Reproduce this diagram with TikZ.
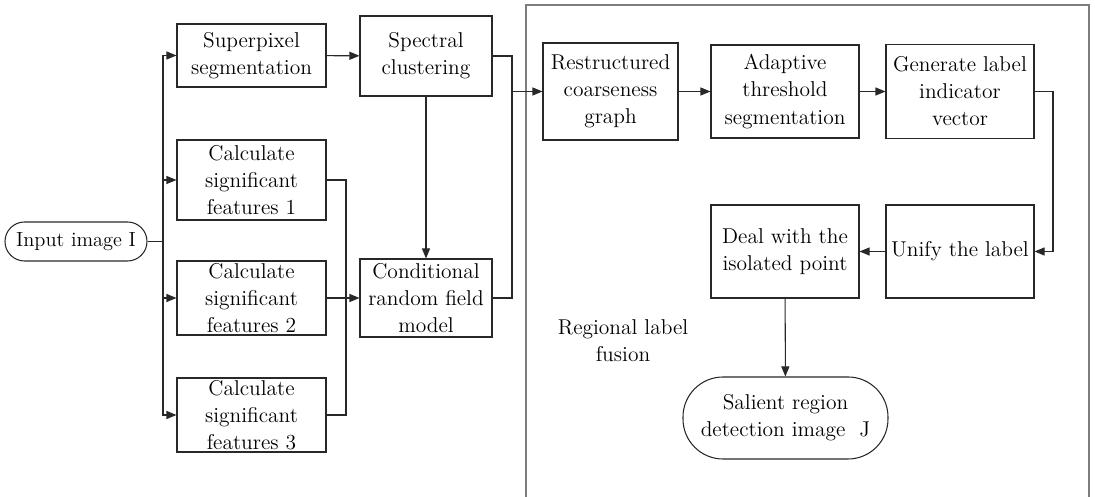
\documentclass[tikz,border=0pt]{standalone}
\usepackage{fontspec}
\usetikzlibrary{arrows.meta}
\definecolor{figline}{RGB}{40,40,40}
\definecolor{figframe}{RGB}{125,125,125}

\begin{document}
\begin{tikzpicture}[
    line join=miter,
    every node/.style={font=\rmfamily\fontsize{12.2}{15.4}\selectfont},
    box/.style={rectangle, draw=figline, line width=0.6pt, align=center, inner sep=0pt},
    term/.style={box, rounded corners=#1},
    link/.style={figline, line width=0.6pt},
    flow/.style={link, -{Triangle[length=2mm, width=1.6mm]}},
    frame/.style={figframe, line width=1.1pt},
    lbl/.style={align=center},
  ]
  \useasboundingbox (0,0) rectangle (21.9,9.94);

  % ---- junction coordinates ------------------------------------
  \coordinate (split) at ( 3.26,5.11);   % fan-out of the input image
  \coordinate (fuse)  at ( 6.92,3.98);   % feature maps collect here
  \coordinate (join)  at (10.24,8.11);   % clustering + CRF into fusion
  \coordinate (turn)  at (21.06,6.50);   % right-hand return path

  % ---- fusion frame (open at the bottom) -----------------------
  \draw[frame] (10.52,-0.2) -- (10.52,9.84) -- (21.78,9.84) -- (21.78,-0.2);

  % ---- left part -----------------------------------------------
  \node[term=0.39cm, minimum width=2.84cm, minimum height=0.78cm,
        font=\rmfamily\fontsize{11.6}{14}\selectfont] (in) at (1.52,5.11) {Input image I};
  \node[box, minimum width=2.98cm, minimum height=1.26cm] (sp) at (5.03,8.83) {Superpixel\\segmentation};
  \node[box, minimum width=2.98cm, minimum height=1.60cm] (c1) at (5.03,6.34) {Calculate\\significant\\features 1};
  \node[box, minimum width=2.98cm, minimum height=1.48cm] (c2) at (5.03,3.98) {Calculate\\significant\\features 2};
  \node[box, minimum width=2.98cm, minimum height=1.48cm] (c3) at (5.03,1.64) {Calculate\\significant\\features 3};
  \node[box, minimum width=2.64cm, minimum height=1.60cm] (sc) at (8.52,8.82) {Spectral\\clustering};
  \node[box, minimum width=2.64cm, minimum height=1.56cm] (crf) at (8.52,3.98) {Conditional\\random field\\model};

  % ---- fusion part ---------------------------------------------
  \node[box, minimum width=2.70cm, minimum height=1.94cm] (rc) at (12.21,8.11) {Restructured\\coarseness\\graph};
  \node[box, minimum width=2.96cm, minimum height=1.86cm] (ad) at (15.70,8.11) {Adaptive\\threshold\\segmentation};
  \node[box, minimum width=2.96cm, minimum height=1.88cm] (gl) at (19.20,8.11) {Generate label\\indicator\\vector};
  \node[box, minimum width=2.96cm, minimum height=1.86cm] (un) at (19.20,4.91) {Unify the label};
  \node[box, minimum width=2.96cm, minimum height=1.86cm] (dl) at (15.70,4.91) {Deal with the\\isolated point};
  \node[term=0.8cm, minimum width=4.10cm, minimum height=1.64cm] (sal) at (15.71,1.58) {Salient region\\detection image \ J};
  \node[lbl] (fusion) at (12.46,3.12) {Regional label\\fusion};

  % ---- connectors ----------------------------------------------
  \draw[link] (in.east) -- (split);
  \draw[flow] (split) |- (sp.west);
  \draw[flow] (split) |- (c1.west);
  \draw[flow] (split) |- (c2.west);
  \draw[flow] (split) |- (c3.west);

  \draw[flow] (sp) -- (sc);
  \draw[flow] (sc) -- (crf);
  \draw[link] (c1.east) -| (fuse |- c3.east) -- (c3.east);
  \draw[flow] (c2.east) -- (crf.west);

  \draw[link] (sc.east) -| (join |- crf.east) -- (crf.east);
  \draw[flow] (join) -- (rc.west);
  \draw[flow] (rc) -- (ad);
  \draw[flow] (ad) -- (gl);
  \draw[flow] (gl.east) -| (turn) |- (un.east);
  \draw[flow] (un) -- (dl);
  \draw[flow] (dl) -- (sal);

\end{tikzpicture}
\end{document}
